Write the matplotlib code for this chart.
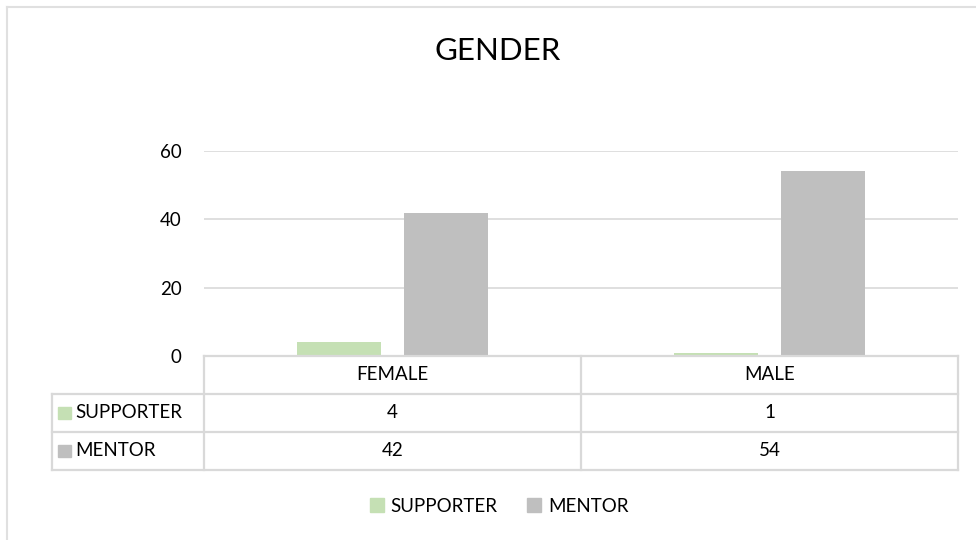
import numpy as np
import matplotlib.pyplot as plt
from matplotlib.lines import Line2D
from matplotlib.patches import Rectangle

plt.rcParams['font.family'] = ['Lato', 'DejaVu Sans']

categories = ['FEMALE', 'MALE']
series = ['SUPPORTER', 'MENTOR']
supporter = [4, 1]
mentor = [42, 54]
colors = ['#c5e0b4', '#bfbfbf']
yticks = [0, 20, 40, 60]

W, H = 976, 540
fig = plt.figure(figsize=(W / 100, H / 100), dpi=100)


def fx(px):
    return px / W


def fy(py):
    return 1 - py / H


grid_c = '#d9d9d9'

# plot area in pixel terms
left, right, top, bottom = 204, 958, 151, 356
ax = fig.add_axes([fx(left), fy(bottom), fx(right - left), (bottom - top) / H])
x = np.arange(len(categories))
off, bw = 0.142, 0.225
ax.bar(x - off, supporter, bw, color=colors[0], zorder=3)
ax.bar(x + off, mentor, bw, color=colors[1], zorder=3)
ax.set_xlim(-0.5, len(categories) - 0.5)
ax.set_ylim(0, 60)
ax.set_yticks(yticks)
ax.set_xticks([])
ax.tick_params(axis='y', length=0, pad=16, labelsize=13.5)
ax.grid(axis='y', color=grid_c, lw=1.2, zorder=0)
for s in ax.spines.values():
    s.set_visible(False)

# data table below the plot area, same x scale
tleft, tbot = 52, 470
unit = (right - left) / len(categories)
tax = fig.add_axes([fx(tleft), fy(tbot), fx(right - tleft), (tbot - bottom) / H])
tax.set_xlim(-0.5 - (left - tleft) / unit, len(categories) - 0.5)
tax.set_ylim(3, 0)
tax.axis('off')
lc = dict(color=grid_c, lw=1.6, clip_on=False)
x0 = tax.get_xlim()[0]
# horizontal lines
tax.plot([-0.5, len(categories) - 0.5], [0, 0], **lc)
for r in [1, 2, 3]:
    tax.plot([x0, len(categories) - 0.5], [r, r], **lc)
# vertical lines
tax.plot([x0, x0], [1, 3], **lc)
for c in np.arange(len(categories) + 1) - 0.5:
    tax.plot([c, c], [0, 3], **lc)

for i, cat in enumerate(categories):
    tax.text(i, 0.5, cat, ha='center', va='center', fontsize=13.5)
for r, (name, vals, col) in enumerate(zip(series, [supporter, mentor], colors), start=1):
    tax.add_patch(Rectangle((x0 + 0.016, r + 0.5 - 0.17), 0.034, 0.34,
                            color=col, clip_on=False))
    tax.text(x0 + 0.061, r + 0.5, name, ha='left', va='center', fontsize=13.5)
    for i, v in enumerate(vals):
        tax.text(i, r + 0.5, str(v), ha='center', va='center', fontsize=13.5)

# title
fig.text(fx(498), fy(51), 'GENDER', ha='center', va='center', fontsize=22.5)

# legend
handles = [Rectangle((0, 0), 1, 1, color=c) for c in colors]
fig.legend(handles, series, loc='center', bbox_to_anchor=(fx(499), fy(506)),
           ncol=2, frameon=False, fontsize=13.5, handlelength=0.75,
           handleheight=0.75, handletextpad=0.35, columnspacing=1.6)

# chart border
fig.add_artist(Line2D([fx(7), 1], [fy(7), fy(7)], color='#e0e0e0', lw=1.5))
fig.add_artist(Line2D([fx(7), fx(7)], [fy(7), 0], color='#e0e0e0', lw=1.5))

fig.savefig('out.png', dpi=100)
